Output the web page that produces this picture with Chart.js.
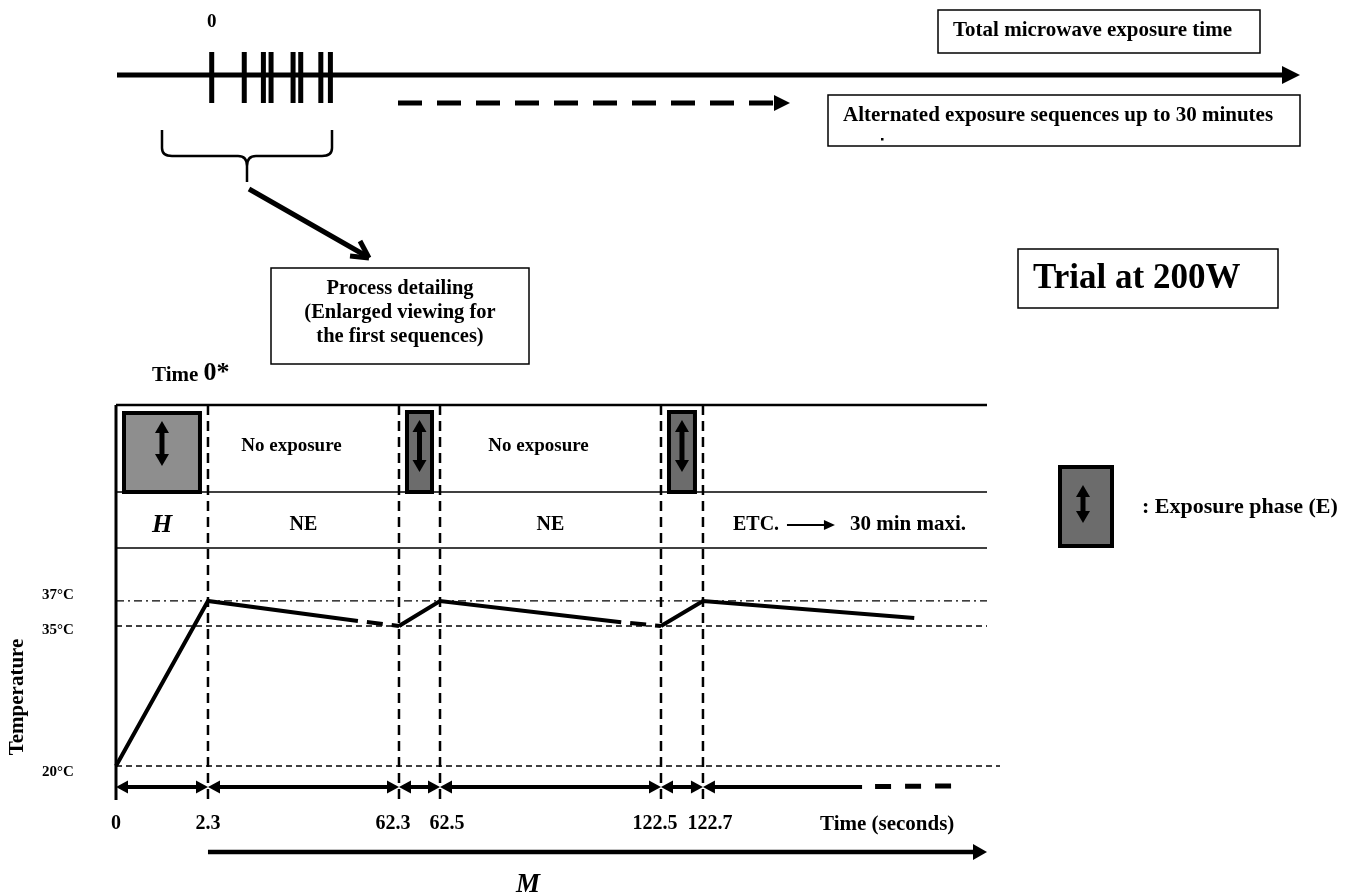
<!DOCTYPE html>
<html>
<head>
<meta charset="utf-8">
<script src="https://cdn.jsdelivr.net/npm/chart.js@4.4.1/dist/chart.umd.min.js"></script>
<style>
html, body { margin: 0; padding: 0; background: #fff; }
canvas { display: block; }
</style>
</head>
<body>
<canvas id="timeline" width="1363" height="896"></canvas>
<script>
// temperature profile (time in seconds, temperature in °C)
const timeSec = [0, 2.3, 49.4, 62.3, 62.5, 111.7, 122.5, 122.7, 180.2];
const tempC = [20, 37, 35.4, 35, 37, 35.3, 35, 37, 35.64];
// segments that are drawn dashed (index of first point)
const dashedSegments = [2, 5];

// phase boundaries on the time axis
const tickTimes = [0, 2.3, 62.3, 62.5, 122.5, 122.7];
const tickLabels = ['0', '2.3', '62.3', '62.5', '122.5', '122.7'];
const phaseNames = ['H', 'NE', '', 'NE', '', 'ETC.'];
const openPhase = [166, 191]; // solid until, dashed until

// reference temperatures
const refTemps = [37, 35, 20];
const refLabels = ['37°C', '35°C', '20°C'];

// exposure pulses on the overview line (arbitrary units, 0 = first pulse)
const pulses = [0, 3.4, 5.4, 6.2, 8.5, 9.3, 11.4, 12.4];

// schematic (piecewise) axes, the figure is not drawn to scale
const AXIS_BREAKS = {
  x: { values: [0, 2.3, 62.3, 62.5, 122.5, 122.7, 200], fractions: [0, 0.1056, 0.3249, 0.372, 0.6257, 0.6739, 1] },
  y: { values: [17.5, 20, 35, 37, 52], fractions: [0, 0.0623, 0.426, 0.491, 1] }
};

function piecewise(xs, ys, v) {
  let i = 0;
  while (i < xs.length - 2 && v > xs[i + 1]) i++;
  const t = (v - xs[i]) / (xs[i + 1] - xs[i]);
  return ys[i] + t * (ys[i + 1] - ys[i]);
}

class SchematicScale extends Chart.LinearScale {
  getPixelForValue(value) {
    const m = AXIS_BREAKS[this.id];
    const f = piecewise(m.values, m.fractions, value);
    return this.isHorizontal() ? this.left + f * this.width : this.bottom - f * this.height;
  }
  getValueForPixel(pixel) {
    const m = AXIS_BREAKS[this.id];
    const f = this.isHorizontal() ? (pixel - this.left) / this.width : (this.bottom - pixel) / this.height;
    return piecewise(m.fractions, m.values, f);
  }
}
SchematicScale.id = 'schematic';
SchematicScale.defaults = Chart.LinearScale.defaults;
Chart.register(SchematicScale);

const SERIF = '"Liberation Serif", "Times New Roman", serif';

function text(ctx, s, x, y, size, align, style) {
  ctx.font = (style || 'bold') + ' ' + size + 'px ' + SERIF;
  ctx.textAlign = align || 'center';
  ctx.textBaseline = 'middle';
  ctx.fillStyle = '#000';
  ctx.fillText(s, x, y);
}

function line(ctx, x1, y1, x2, y2, w, dash, offset) {
  ctx.save();
  ctx.strokeStyle = '#000';
  ctx.lineWidth = w;
  ctx.setLineDash(dash || []);
  ctx.lineDashOffset = offset || 0;
  ctx.beginPath();
  ctx.moveTo(x1, y1);
  ctx.lineTo(x2, y2);
  ctx.stroke();
  ctx.restore();
}

function head(ctx, x, y, angle, len, half) {
  ctx.save();
  ctx.translate(x, y);
  ctx.rotate(angle);
  ctx.fillStyle = '#000';
  ctx.beginPath();
  ctx.moveTo(0, 0);
  ctx.lineTo(-len, -half);
  ctx.lineTo(-len, half);
  ctx.closePath();
  ctx.fill();
  ctx.restore();
}

function rect(ctx, x, y, w, h, lw, fill) {
  ctx.save();
  if (fill) {
    ctx.fillStyle = fill;
    ctx.fillRect(x, y, w, h);
  }
  ctx.strokeStyle = '#000';
  ctx.lineWidth = lw;
  ctx.strokeRect(x, y, w, h);
  ctx.restore();
}

function upDown(ctx, x, y1, y2) {
  line(ctx, x, y1 + 10, x, y2 - 10, 5);
  head(ctx, x, y1, -Math.PI / 2, 12, 7);
  head(ctx, x, y2, Math.PI / 2, 12, 7);
}

const diagram = {
  id: 'diagram',
  beforeDatasetsDraw(chart) {
    const { ctx, chartArea: a, scales: { x, y } } = chart;
    const px = tickTimes.map(t => x.getPixelForValue(t));

    // table rows above the curve
    line(ctx, a.left, a.top, a.right, a.top, 2.5);
    line(ctx, a.left, 492, a.right, 492, 1.5);
    line(ctx, a.left, 548, a.right, 548, 1.5);

    // exposure phase boxes
    for (let i = 0; i < px.length - 1; i += 2) {
      const fill = i === 0 ? '#8e8e8e' : '#6c6c6c';
      const top = i === 0 ? 413 : 412;
      rect(ctx, px[i] + 8, top, px[i + 1] - px[i] - 16, 492 - top, 4, fill);
      upDown(ctx, (px[i] + px[i + 1]) / 2, top + 8, i === 0 ? 466 : 472);
    }

    // time axis and phase boundaries
    line(ctx, px[0], a.top, px[0], a.bottom + 10, 3);
    px.slice(1).forEach(p => line(ctx, p, a.top, p, a.bottom + 10, 2.5, [10, 6]));

    // reference temperatures
    refTemps.forEach((t, i) => {
      const ty = y.getPixelForValue(t);
      const dash = i === 0 ? [8, 4, 2, 4] : [6, 4];
      const end = i === 2 ? a.right + 13 : a.right;
      line(ctx, a.left, ty, end, ty, 1.3, dash);
    });
  },
  afterDatasetsDraw(chart) {
    const { ctx, chartArea: a, scales: { x, y, xTop } } = chart;
    const px = tickTimes.map(t => x.getPixelForValue(t));

    // overview timeline
    line(ctx, 117, 75, 1284, 75, 5);
    head(ctx, 1300, 75, 0, 18, 9);
    pulses.forEach(p => {
      const xp = xTop.getPixelForValue(p);
      line(ctx, xp, 52, xp, 103, 5);
    });
    text(ctx, '0', xTop.getPixelForValue(0), 22, 19);
    line(ctx, 398, 103, 775, 103, 5, [24, 15]);
    head(ctx, 790, 103, 0, 16, 8);

    // brace + pointer
    ctx.save();
    ctx.lineWidth = 2.5;
    ctx.strokeStyle = '#000';
    ctx.beginPath();
    ctx.moveTo(162, 130);
    ctx.lineTo(162, 148);
    ctx.quadraticCurveTo(162, 156, 172, 156);
    ctx.lineTo(238, 156);
    ctx.quadraticCurveTo(247, 156, 247, 166);
    ctx.lineTo(247, 182);
    ctx.moveTo(247, 166);
    ctx.quadraticCurveTo(247, 156, 256, 156);
    ctx.lineTo(322, 156);
    ctx.quadraticCurveTo(332, 156, 332, 148);
    ctx.lineTo(332, 130);
    ctx.stroke();
    ctx.restore();
    line(ctx, 249, 189, 368, 257, 5);
    line(ctx, 369, 258, 350, 256, 5);
    line(ctx, 369, 258, 360, 241, 5);

    // text boxes
    rect(ctx, 938, 10, 322, 43, 1.5);
    text(ctx, 'Total microwave exposure time', 953, 31, 21, 'left');
    rect(ctx, 828, 95, 472, 51, 1.5);
    text(ctx, 'Alternated exposure sequences up to 30 minutes', 843, 116, 21, 'left');
    ctx.fillRect(881, 138, 2.5, 2.5);
    rect(ctx, 271, 268, 258, 96, 1.5);
    text(ctx, 'Process detailing', 400, 289, 20.5);
    text(ctx, '(Enlarged viewing for', 400, 313, 20.5);
    text(ctx, 'the first sequences)', 400, 337, 20.5);
    rect(ctx, 1018, 249, 260, 59, 1.5);
    text(ctx, 'Trial at 200W', 1033, 279, 35, 'left');

    text(ctx, 'Time ', 152, 376, 21, 'left');
    ctx.font = 'bold 21px ' + SERIF;
    const tw = ctx.measureText('Time ').width;
    text(ctx, '0*', 152 + tw, 373, 26, 'left');

    // phase names
    for (let i = 0; i < phaseNames.length; i++) {
      const mid = i < px.length - 1 ? (px[i] + px[i + 1]) / 2 : 0;
      if (phaseNames[i] === 'H') text(ctx, 'H', mid, 525, 26, 'center', 'italic bold');
      if (phaseNames[i] === 'NE') {
        text(ctx, 'NE', mid, 525, 20);
        text(ctx, 'No exposure', mid - 12, 446, 19);
      }
      if (phaseNames[i] === 'ETC.') {
        text(ctx, 'ETC.', px[i] + 30, 525, 20, 'left');
        line(ctx, px[i] + 84, 525, px[i] + 122, 525, 2);
        head(ctx, px[i] + 132, 525, 0, 11, 5);
        text(ctx, '30 min maxi.', px[i] + 147, 525, 21, 'left');
      }
    }

    // temperature labels
    const labelShift = [-6, 4, 6];
    refTemps.forEach((t, i) => text(ctx, refLabels[i], 58, y.getPixelForValue(t) + labelShift[i], 15));
    ctx.save();
    ctx.translate(18, 697);
    ctx.rotate(-Math.PI / 2);
    text(ctx, 'Temperature', 0, 0, 21);
    ctx.restore();

    // duration arrows between phase boundaries
    const ay = a.bottom - 3;
    for (let i = 0; i < px.length - 1; i++) {
      line(ctx, px[i] + 10, ay, px[i + 1] - 10, ay, 4);
      head(ctx, px[i], ay, Math.PI, 12, 6.5);
      head(ctx, px[i + 1], ay, 0, 12, 6.5);
    }
    const last = px[px.length - 1];
    const solidEnd = x.getPixelForValue(openPhase[0]);
    const dashEnd = x.getPixelForValue(openPhase[1]);
    head(ctx, last, ay, Math.PI, 12, 6.5);
    line(ctx, last + 10, ay, solidEnd, ay, 4);
    line(ctx, solidEnd + 13, ay - 0.5, dashEnd, ay - 1, 5, [16, 14]);

    // time tick labels, pairs nudged apart
    px.forEach((p, i) => {
      let nudge = 0;
      if (i < px.length - 1 && px[i + 1] - p < 60) nudge = -6;
      if (i > 0 && p - px[i - 1] < 60) nudge = 7;
      text(ctx, tickLabels[i], p + nudge, 824, 20);
    });
    text(ctx, 'Time (seconds)', 820, 825, 21, 'left');

    // main exposure span M
    line(ctx, px[1], 852, a.right - 12, 852, 4.5);
    head(ctx, a.right, 852, 0, 14, 8);
    text(ctx, 'M', 528, 885, 27, 'center', 'italic bold');

    // legend
    rect(ctx, 1060, 467, 52, 79, 4, '#6c6c6c');
    upDown(ctx, 1083, 485, 523);
    text(ctx, ': Exposure phase (E)', 1142, 507, 22, 'left');
  }
};

const canvas = document.getElementById('timeline');
new Chart(canvas, {
  type: 'line',
  data: {
    datasets: [{
      data: timeSec.map((t, i) => ({ x: t, y: tempC[i] })),
      borderColor: '#000',
      borderWidth: 4,
      borderCapStyle: 'butt',
      borderJoinStyle: 'miter',
      pointRadius: 0,
      tension: 0,
      clip: false,
      segment: {
        borderDash: c => dashedSegments.includes(c.p0DataIndex) ? [16, 9] : undefined,
        borderDashOffset: c => dashedSegments.includes(c.p0DataIndex) ? 16 : undefined
      }
    }]
  },
  options: {
    responsive: false,
    animation: false,
    devicePixelRatio: 1,
    layout: { padding: { left: 116, top: 405, right: 376, bottom: 106 } },
    plugins: { legend: { display: false }, tooltip: { enabled: false } },
    scales: {
      x: { type: 'schematic', min: 0, max: 200, display: false },
      y: { type: 'schematic', min: 17.5, max: 52, display: false },
      xTop: { type: 'linear', axis: 'x', min: -10, max: 81, display: false }
    }
  },
  plugins: [diagram]
});
</script>
</body>
</html>
